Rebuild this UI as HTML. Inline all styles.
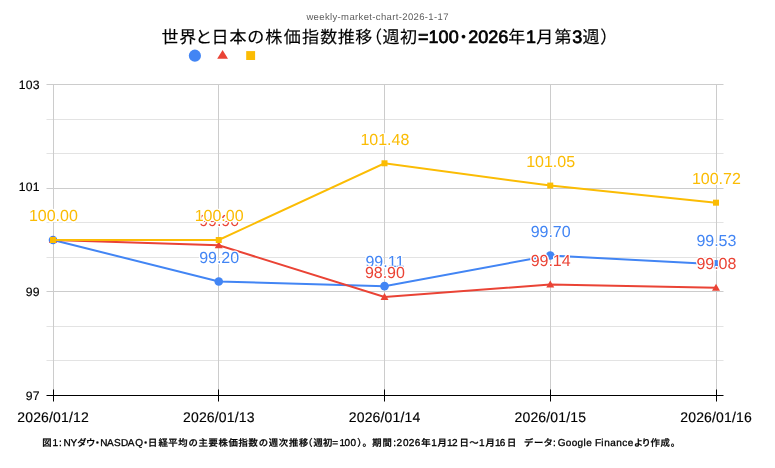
<!DOCTYPE html>
<html lang="ja"><head><meta charset="utf-8"><title>weekly-market-chart-2026-1-17</title>
<style>
html,body{margin:0;padding:0;background:#fff;}
body{width:775px;height:468px;overflow:hidden;font-family:"Liberation Sans","Noto Sans CJK JP",sans-serif;}
svg{display:block;will-change:transform;}
text{font-family:"Liberation Sans","Noto Sans CJK JP",sans-serif;text-rendering:geometricPrecision;}
.ax{font-size:12.2px;fill:#000;letter-spacing:0.3px;stroke:#000;stroke-width:0.15px;}
.xl{font-size:14px;fill:#000;text-anchor:middle;letter-spacing:0.15px;stroke:#000;stroke-width:0.15px;}
.an{font-size:16px;text-anchor:middle;stroke:#fff;stroke-width:2.6px;stroke-linejoin:round;paint-order:stroke fill;}
</style></head><body>
<svg width="775" height="468" viewBox="0 0 775 468">
<rect width="775" height="468" fill="#fff"/>
<text id="sub" x="306.4" y="19.6" font-size="9.5" fill="#5c5c5c" letter-spacing="0.36">weekly-market-chart-2026-1-17</text>
<text id="title" y="43" fill="#000"><tspan x="161.55 179.17 195.29 211.61 229.53 247.15 265.37 283.69 302.11 320.13 337.75 355.37" font-size="17" letter-spacing="0.5" font-weight="400" stroke="#000" stroke-width="0.15">世界と日本の株価指数推移</tspan><tspan x="365.0" font-size="17" letter-spacing="0.5" font-weight="400" stroke="#000" stroke-width="0.15">（</tspan><tspan x="382.55" font-size="17" letter-spacing="0.5" font-weight="400" stroke="#000" stroke-width="0.15">週初</tspan><tspan x="418.1" font-size="18" font-weight="400" stroke="#000" stroke-width="0.7" stroke-linejoin="round">=100</tspan><tspan x="455.0" font-size="17" letter-spacing="0.5" font-weight="400" stroke="#000" stroke-width="0.15" id="dot">・</tspan><tspan x="468.3" font-size="18" font-weight="400" stroke="#000" stroke-width="0.7" stroke-linejoin="round">2026</tspan><tspan x="508.3" font-size="17" letter-spacing="0.5" font-weight="400" stroke="#000" stroke-width="0.15">年</tspan><tspan x="526.0" font-size="18" font-weight="400" stroke="#000" stroke-width="0.7" stroke-linejoin="round">1</tspan><tspan x="536.2" font-size="17" letter-spacing="0.5" font-weight="400" stroke="#000" stroke-width="0.15">月</tspan><tspan x="554.5" font-size="17" letter-spacing="0.5" font-weight="400" stroke="#000" stroke-width="0.15">第</tspan><tspan x="572.2" font-size="18" font-weight="400" stroke="#000" stroke-width="0.7" stroke-linejoin="round">3</tspan><tspan x="582.4" font-size="17" letter-spacing="0.5" font-weight="400" stroke="#000" stroke-width="0.15">週</tspan><tspan x="600.3" font-size="17" letter-spacing="0.5" font-weight="400" stroke="#000" stroke-width="0.15">）</tspan></text>
<circle cx="194.9" cy="55.7" r="6.1" fill="#4285f4"/>
<path d="M222.6 49.9 L228 58.8 L217.2 58.8 Z" fill="#ea4335"/>
<rect x="246.2" y="51.1" width="8.9" height="8.9" fill="#fbbc04"/>
<path d="M46.5 84.5 H723.5" stroke="#cccccc" stroke-width="1"/>
<path d="M46.5 119.5 H723.5" stroke="#e3e3e3" stroke-width="1"/>
<path d="M46.5 153.5 H723.5" stroke="#e3e3e3" stroke-width="1"/>
<path d="M46.5 188.5 H723.5" stroke="#cccccc" stroke-width="1"/>
<path d="M46.5 222.5 H723.5" stroke="#e3e3e3" stroke-width="1"/>
<path d="M46.5 257.5 H723.5" stroke="#e3e3e3" stroke-width="1"/>
<path d="M46.5 291.5 H723.5" stroke="#cccccc" stroke-width="1"/>
<path d="M46.5 326.5 H723.5" stroke="#e3e3e3" stroke-width="1"/>
<path d="M46.5 360.5 H723.5" stroke="#e3e3e3" stroke-width="1"/>
<path d="M53.5 84.5 V395.5" stroke="#cccccc" stroke-width="1"/>
<path d="M218.5 84.5 V395.5" stroke="#cccccc" stroke-width="1"/>
<path d="M384.5 84.5 V395.5" stroke="#cccccc" stroke-width="1"/>
<path d="M550.5 84.5 V395.5" stroke="#cccccc" stroke-width="1"/>
<path d="M716.5 84.5 V395.5" stroke="#cccccc" stroke-width="1"/>
<path d="M46.5 395.5 H723.5" stroke="#000" stroke-width="1"/>
<path d="M53.5 389.5 V401.5" stroke="#000" stroke-width="1"/>
<path d="M218.5 389.5 V401.5" stroke="#000" stroke-width="1"/>
<path d="M384.5 389.5 V401.5" stroke="#000" stroke-width="1"/>
<path d="M550.5 389.5 V401.5" stroke="#000" stroke-width="1"/>
<path d="M716.5 389.5 V401.5" stroke="#000" stroke-width="1"/>
<text class="ax" x="39.9" y="88.6" text-anchor="end">103</text>
<text class="ax" x="39.9" y="191.4" text-anchor="end">101</text>
<text class="ax" x="39.9" y="296.0" text-anchor="end">99</text>
<text class="ax" x="39.9" y="399.9" text-anchor="end">97</text>
<text class="xl" x="53.1" y="422">2026/01/12</text>
<text class="xl" x="218.85" y="422">2026/01/13</text>
<text class="xl" x="384.6" y="422">2026/01/14</text>
<text class="xl" x="550.35" y="422">2026/01/15</text>
<text class="xl" x="716.1" y="422">2026/01/16</text>
<polyline points="53.00,240.00 218.75,281.47 384.50,286.13 550.25,255.55 716.00,264.36" fill="none" stroke="#4285f4" stroke-width="2"/>
<circle cx="53.00" cy="240.00" r="4.3" fill="#4285f4"/>
<circle cx="218.75" cy="281.47" r="4.3" fill="#4285f4"/>
<circle cx="384.50" cy="286.13" r="4.3" fill="#4285f4"/>
<circle cx="550.25" cy="255.55" r="4.3" fill="#4285f4"/>
<circle cx="716.00" cy="264.36" r="4.3" fill="#4285f4"/>
<polyline points="53.00,240.00 218.75,245.18 384.50,297.02 550.25,284.58 716.00,287.69" fill="none" stroke="#ea4335" stroke-width="2"/>
<path d="M53.00 236.00 L57.00 243.00 L49.00 243.00 Z" fill="#ea4335"/>
<path d="M218.75 241.18 L222.75 248.18 L214.75 248.18 Z" fill="#ea4335"/>
<path d="M384.50 293.02 L388.50 300.02 L380.50 300.02 Z" fill="#ea4335"/>
<path d="M550.25 280.58 L554.25 287.58 L546.25 287.58 Z" fill="#ea4335"/>
<path d="M716.00 283.69 L720.00 290.69 L712.00 290.69 Z" fill="#ea4335"/>
<polyline points="53.00,240.00 218.75,240.00 384.50,163.29 550.25,185.58 716.00,202.68" fill="none" stroke="#fbbc04" stroke-width="2"/>
<rect x="50.00" y="237.00" width="6" height="6" fill="#fbbc04"/>
<rect x="215.75" y="237.00" width="6" height="6" fill="#fbbc04"/>
<rect x="381.50" y="160.29" width="6" height="6" fill="#fbbc04"/>
<rect x="547.25" y="182.58" width="6" height="6" fill="#fbbc04"/>
<rect x="713.00" y="199.68" width="6" height="6" fill="#fbbc04"/>
<text class="an" x="53.40" y="221.30" fill="#4285f4">100.00</text>
<text class="an" x="219.15" y="262.77" fill="#4285f4">99.20</text>
<text class="an" x="384.90" y="267.43" fill="#4285f4">99.11</text>
<text class="an" x="550.65" y="236.85" fill="#4285f4">99.70</text>
<text class="an" x="716.40" y="245.66" fill="#4285f4">99.53</text>
<text class="an" x="53.40" y="221.30" fill="#ea4335">100.00</text>
<text class="an" x="219.15" y="226.48" fill="#ea4335">99.90</text>
<text class="an" x="384.90" y="278.32" fill="#ea4335">98.90</text>
<text class="an" x="550.65" y="265.88" fill="#ea4335">99.14</text>
<text class="an" x="716.40" y="268.99" fill="#ea4335">99.08</text>
<text class="an" x="53.40" y="221.30" fill="#fbbc04">100.00</text>
<text class="an" x="219.15" y="221.30" fill="#fbbc04">100.00</text>
<text class="an" x="384.90" y="144.59" fill="#fbbc04">101.48</text>
<text class="an" x="550.65" y="166.88" fill="#fbbc04">101.05</text>
<text class="an" x="716.40" y="183.98" fill="#fbbc04">100.72</text>
<text id="cap" y="446" font-size="10" fill="#000" xml:space="preserve"><tspan font-weight="500" font-size="9.3" stroke="#000" stroke-width="0.25" x="42.26">図</tspan><tspan font-weight="400" font-size="10" stroke="#000" stroke-width="0.3" x="52.41 59.01 63.41 70.47">1:NY</tspan><tspan font-weight="500" font-size="9.3" stroke="#000" stroke-width="0.25" x="77.31 86.02 92.84">ダウ・</tspan><tspan font-weight="400" font-size="10" stroke="#000" stroke-width="0.3" x="100.21 107.01 114.04 121.11 127.71 135.19">NASDAQ</tspan><tspan font-weight="500" font-size="9.3" stroke="#000" stroke-width="0.25" x="140.99 148.04 158.48 168.35 178.27 188.39 198.47 208.47 218.43 228.53 238.61 248.58 258.67 268.76 278.68 288.94 298.97 303.35 313.47 322.98">・日経平均の主要株価指数の週次推移（週初</tspan><tspan font-weight="400" font-size="10" stroke="#000" stroke-width="0.3" x="332.16 339.41 344.39 350.49">=100</tspan><tspan font-weight="500" font-size="9.3" stroke="#000" stroke-width="0.25" x="357.23 362.58 372.26 382.39">）。期間</tspan><tspan font-weight="400" font-size="10" stroke="#000" stroke-width="0.3" x="393.21 396.41 403.09 408.71 414.83">:2026</tspan><tspan font-weight="500" font-size="9.3" stroke="#000" stroke-width="0.25" x="421.37">年</tspan><tspan font-weight="400" font-size="10" stroke="#000" stroke-width="0.3" x="431.31">1</tspan><tspan font-weight="500" font-size="9.3" stroke="#000" stroke-width="0.25" x="437.40">月</tspan><tspan font-weight="400" font-size="10" stroke="#000" stroke-width="0.3" x="447.11 452.11">12</tspan><tspan font-weight="500" font-size="9.3" stroke="#000" stroke-width="0.25" x="459.49 469.19">日〜</tspan><tspan font-weight="400" font-size="10" stroke="#000" stroke-width="0.3" x="479.01">1</tspan><tspan font-weight="500" font-size="9.3" stroke="#000" stroke-width="0.25" x="485.50">月</tspan><tspan font-weight="400" font-size="10" stroke="#000" stroke-width="0.3" x="495.01 499.83">16</tspan><tspan font-weight="500" font-size="9.3" stroke="#000" stroke-width="0.25" x="507.09 516.50 523.93 534.03 543.46">日　データ</tspan><tspan font-weight="400" font-size="10" stroke="#000" stroke-width="0.3" x="553.01 557.66 565.73 571.73 577.55 583.49 586.24 592.50 595.01 601.29 604.18 610.14 616.18 622.24 627.84">:Google Finance</tspan><tspan font-weight="500" font-size="9.3" stroke="#000" stroke-width="0.25" x="633.75 641.62 650.52 660.56 670.78">より作成。</tspan></text>
</svg></body></html>
